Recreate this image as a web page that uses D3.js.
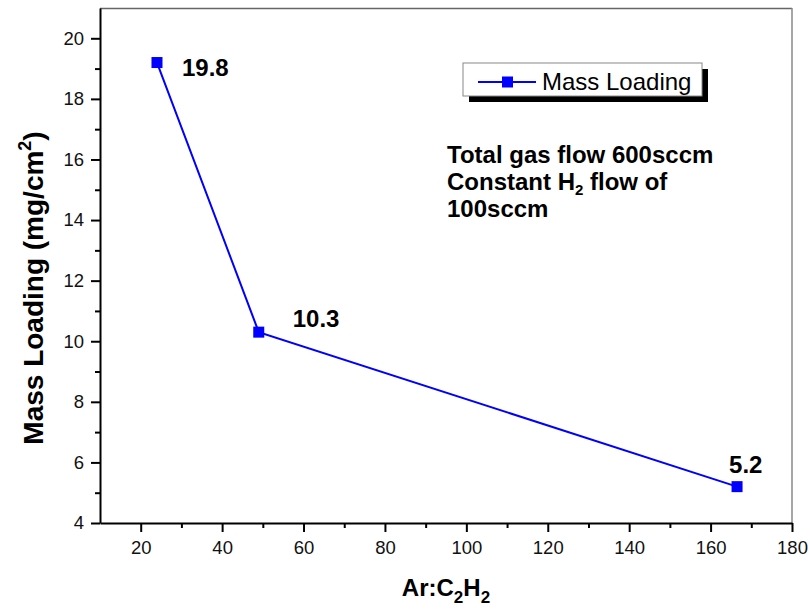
<!DOCTYPE html>
<html>
<head>
<meta charset="utf-8">
<script src="https://cdn.jsdelivr.net/npm/d3@7"></script>
<style>
  body { margin: 0; background: #fff; }
  text { font-family: "Liberation Sans", Arial, sans-serif; }
</style>
</head>
<body>
<svg id="chart" width="810" height="614"></svg>
<script>
// data
var ratios = [24, 49, 166.5];
var massLoading = [19.2, 10.3, 5.2];
var pointLabels = ['19.8', '10.3', '5.2'];
var xTicks = [20, 40, 60, 80, 100, 120, 140, 160, 180];
var yTicks = [4, 6, 8, 10, 12, 14, 16, 18, 20];

var svg = d3.select('#chart'),
  margin = { top: 8, right: 18, bottom: 91, left: 100 },
  w = svg.attr('width') - margin.left - margin.right,
  h = svg.attr('height') - margin.top - margin.bottom;

var x = d3.scaleLinear().domain([10, 180]).range([0, w]),
  y = d3.scaleLinear().domain([4, 21]).range([h, 0]);

var g = svg
  .append('g')
  .attr('transform', 'translate(' + margin.left + ',' + margin.top + ')');

// frame top/right
g.append('line').attr('x1', 0).attr('x2', w).attr('y1', 0.5).attr('y2', 0.5)
  .attr('stroke', '#666').attr('stroke-width', 1.5);
g.append('line').attr('x1', w).attr('x2', w).attr('y1', 0).attr('y2', h)
  .attr('stroke', '#888').attr('stroke-width', 1.5);

// minor ticks
var xMinor = d3.range(30, 180, 20);
var yMinor = d3.range(5, 21, 2);

g.append('g')
  .attr('transform', 'translate(0,' + h + ')')
  .call(d3.axisBottom(x).tickValues(xTicks).tickSize(9).tickPadding(9).tickSizeOuter(0));
g.append('g')
  .attr('transform', 'translate(0,' + h + ')')
  .call(d3.axisBottom(x).tickValues(xMinor).tickSize(5).tickFormat('').tickSizeOuter(0))
  .select('.domain').remove();

g.append('g')
  .call(d3.axisLeft(y).tickValues(yTicks).tickSize(9).tickPadding(7).tickSizeOuter(0));
g.append('g')
  .call(d3.axisLeft(y).tickValues(yMinor).tickSize(5).tickFormat('').tickSizeOuter(0))
  .select('.domain').remove();

g.selectAll('.domain').attr('stroke', '#000').attr('stroke-width', 2);
g.selectAll('.tick line').attr('stroke', '#000').attr('stroke-width', 2);
g.selectAll('.tick text')
  .attr('font-size', 18.5)
  .attr('fill', '#111')
  .style('font-family', '"Liberation Sans", Arial, sans-serif');

// series
var pts = ratios.map(function(r, i) {
  return { x: r, y: massLoading[i], label: pointLabels[i] };
});

var line = d3.line()
  .x(function(d) { return x(d.x); })
  .y(function(d) { return y(d.y); });

g.append('path')
  .datum(pts)
  .attr('d', line)
  .attr('fill', 'none')
  .attr('stroke', '#0000ff')
  .attr('stroke-width', 2);

g.selectAll('rect.pt')
  .data(pts)
  .enter()
  .append('rect')
  .attr('class', 'pt')
  .attr('x', function(d) { return x(d.x) - 5.5; })
  .attr('y', function(d) { return y(d.y) - 5.5; })
  .attr('width', 11)
  .attr('height', 11)
  .attr('fill', '#0000ff');

// value labels
var labelOffsets = [[25, 13], [34, -5], [-8, -14]];
g.selectAll('text.val')
  .data(pts)
  .enter()
  .append('text')
  .attr('class', 'val')
  .attr('x', function(d, i) { return x(d.x) + labelOffsets[i][0]; })
  .attr('y', function(d, i) { return y(d.y) + labelOffsets[i][1]; })
  .attr('font-size', 24)
  .attr('font-weight', 'bold')
  .text(function(d) { return d.label; });

// legend
var lg = svg.append('g').attr('transform', 'translate(463,63)');
lg.append('rect').attr('x', 6).attr('y', 6).attr('width', 239).attr('height', 33).attr('fill', '#000');
lg.append('rect').attr('x', 0).attr('y', 0).attr('width', 239).attr('height', 33)
  .attr('fill', '#fff').attr('stroke', '#888').attr('stroke-width', 1);
lg.append('line').attr('x1', 15).attr('x2', 73).attr('y1', 19).attr('y2', 19)
  .attr('stroke', '#0000ff').attr('stroke-width', 2);
lg.append('rect').attr('x', 39).attr('y', 13.5).attr('width', 11).attr('height', 11).attr('fill', '#0000ff');
lg.append('text').attr('x', 79).attr('y', 27).attr('font-size', 24).text('Mass Loading');

// annotation
var note = svg.append('text').attr('x', 447).attr('font-size', 24).attr('font-weight', 'bold');
note.append('tspan').attr('x', 447).attr('y', 163).text('Total gas flow 600sccm');
note.append('tspan').attr('x', 447).attr('y', 190).text('Constant H');
note.append('tspan').attr('font-size', 15).attr('dy', 5).text('2');
note.append('tspan').attr('dy', -5).text(' flow of');
note.append('tspan').attr('x', 447).attr('y', 217).text('100sccm');

// axis titles
var xt = svg.append('text')
  .attr('x', 446).attr('y', 596)
  .attr('text-anchor', 'middle')
  .attr('font-size', 24).attr('font-weight', 'bold');
xt.append('tspan').text('Ar:C');
xt.append('tspan').attr('font-size', 17).attr('dy', 7).text('2');
xt.append('tspan').attr('dy', -7).text('H');
xt.append('tspan').attr('font-size', 17).attr('dy', 7).text('2');

var yt = svg.append('text')
  .attr('transform', 'translate(43,288) rotate(-90)')
  .attr('text-anchor', 'middle')
  .attr('font-size', 28).attr('font-weight', 'bold');
yt.append('tspan').text('Mass Loading (mg/cm');
yt.append('tspan').attr('font-size', 18).attr('dy', -12).text('2');
yt.append('tspan').attr('dy', 12).text(')');
</script>
</body>
</html>
